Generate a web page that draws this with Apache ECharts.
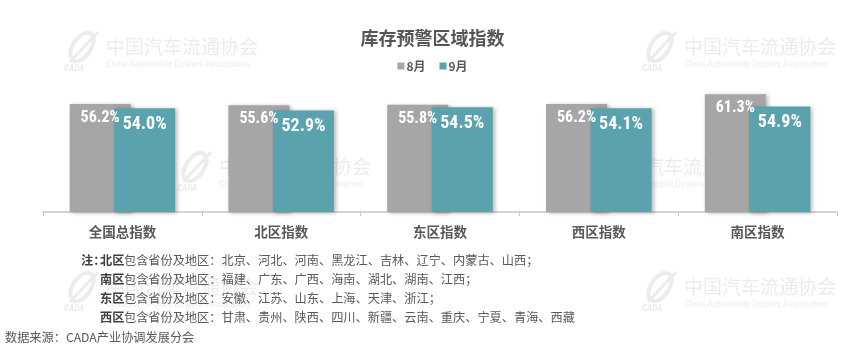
<!DOCTYPE html>
<html>
<head>
<meta charset="utf-8">
<script src="https://cdn.jsdelivr.net/npm/echarts@6/dist/echarts.min.js"></script>
<style>
html,body{margin:0;padding:0;background:#fff;}
#c{width:865px;height:354px;}
</style>
</head>
<body>
<div id="c"></div>
<script>
var categories = ['全国总指数', '北区指数', '东区指数', '西区指数', '南区指数'];
var seriesNames = ['8月', '9月'];
var aug = [56.2, 55.6, 55.8, 56.2, 61.3];
var sep = [54.0, 52.9, 54.5, 54.1, 54.9];
var titleText = '库存预警区域指数';
var noteLines = [
  ['北区', '包含省份及地区：北京、河北、河南、黑龙江、吉林、辽宁、内蒙古、山西；'],
  ['南区', '包含省份及地区：福建、广东、广西、海南、湖北、湖南、江西；'],
  ['东区', '包含省份及地区：安徽、江苏、山东、上海、天津、浙江；'],
  ['西区', '包含省份及地区：甘肃、贵州、陕西、四川、新疆、云南、重庆、宁夏、青海、西藏']
];
var sourceText = '数据来源：CADA产业协调发展分会';

var CJK = '"Noto Sans CJK SC", "Noto Sans", sans-serif';
var NARROW = '"Liberation Sans Narrow", "Arial Narrow", "Roboto Condensed", sans-serif';
var GRAY = '#a6a6a6';
var TEAL = '#5aa3ae';

function watermark(x, y) {
  var wc = '#ececec';
  return {
    type: 'group', x: x, y: y, z: -10, silent: true,
    children: [
      { type: 'ellipse', shape: { cx: 20, cy: 15, rx: 9, ry: 16 }, rotation: -0.6, originX: 20, originY: 15,
        style: { fill: 'none', stroke: wc, lineWidth: 4 } },
      { type: 'line', shape: { x1: 8, y1: 30, x2: 36, y2: 0 }, style: { stroke: wc, lineWidth: 3 } },
      { type: 'text', x: 2, y: 32, style: { text: 'CADA', font: 'italic bold 9px ' + NARROW, fill: wc } },
      { type: 'text', x: 44, y: 5, style: { text: '中国汽车流通协会', font: '19px ' + CJK, fill: wc } },
      { type: 'text', x: 44, y: 28, style: { text: 'China Automobile Dealers Association', font: '9.5px ' + NARROW, fill: wc } }
    ]
  };
}

var graphics = [
  watermark(62, 32), watermark(640, 32),
  watermark(175, 152), watermark(563, 152),
  watermark(62, 272), watermark(640, 272)
];

noteLines.forEach(function (ln, i) {
  var y = 254 + i * 19;
  if (i === 0) {
    graphics.push({ type: 'text', x: 81, y: y, z: 10,
      style: { text: '注：', font: 'bold 12.2px ' + CJK, fill: '#404040' } });
  }
  graphics.push({ type: 'text', x: 100, y: y, z: 10,
    style: { text: ln[0], font: 'bold 12.2px ' + CJK, fill: '#404040' } });
  graphics.push({ type: 'text', x: 124, y: y, z: 10,
    style: { text: ln[1], font: '12.2px ' + CJK, fill: '#595959' } });
});
graphics.push({ type: 'text', x: 5, y: 331, z: 10,
  style: { text: sourceText, font: '12.2px ' + CJK, fill: '#595959' } });

var chart = echarts.init(document.getElementById('c'));
chart.setOption({
  animation: false,
  backgroundColor: '#fff',
  title: {
    text: titleText, left: 'center', top: 24,
    textStyle: { fontFamily: CJK, fontSize: 18, fontWeight: 'bold', color: '#555555' }
  },
  legend: {
    data: seriesNames, top: 55, left: 'center', itemWidth: 7, itemHeight: 7, itemGap: 14,
    icon: 'rect',
    textStyle: { fontFamily: CJK, fontSize: 12, fontWeight: 'bold', color: '#595959', padding: [0, 0, 0, -3] }
  },
  grid: { left: 43, right: 28, top: 20, bottom: 142, containLabel: false },
  xAxis: {
    type: 'category', data: categories,
    axisLine: { lineStyle: { color: '#c8c8c8', width: 1.5 } },
    axisTick: { show: true, length: 4, lineStyle: { color: '#c8c8c8' } },
    axisLabel: { fontFamily: CJK, fontSize: 13.5, fontWeight: 'bold', color: '#595959', margin: 13 }
  },
  yAxis: { type: 'value', min: 0, max: 100, show: false, splitLine: { show: false } },
  series: [
    {
      name: seriesNames[0], type: 'bar', data: aug, barWidth: 61, barGap: '-27%',
      itemStyle: { color: GRAY, shadowColor: 'rgba(0,0,0,0.28)', shadowBlur: 4, shadowOffsetX: 2, shadowOffsetY: 1 },
      label: { show: true, position: 'insideTop', distance: 6, color: '#fff',
        fontFamily: NARROW, fontWeight: 'bold', fontSize: 16,
        formatter: function (p) { return p.value.toFixed(1) + '%'; } }
    },
    {
      name: seriesNames[1], type: 'bar', data: sep, barWidth: 61,
      itemStyle: { color: TEAL, shadowColor: 'rgba(0,0,0,0.28)', shadowBlur: 4, shadowOffsetX: 2, shadowOffsetY: 1 },
      label: { show: true, position: 'insideTop', distance: 7, color: '#fff',
        fontFamily: NARROW, fontWeight: 'bold', fontSize: 18,
        formatter: function (p) { return p.value.toFixed(1) + '%'; } }
    }
  ],
  graphic: graphics
});
</script>
</body>
</html>
